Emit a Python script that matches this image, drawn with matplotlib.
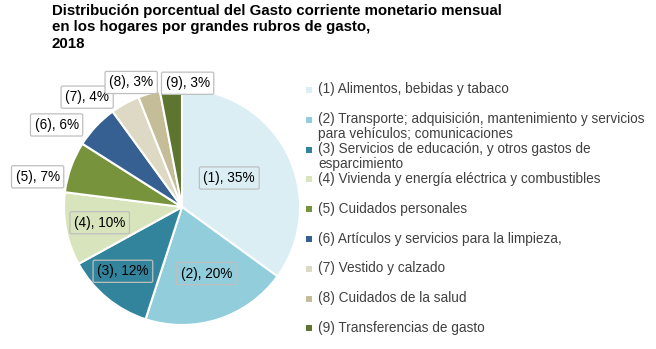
import matplotlib
matplotlib.use("Agg")
import matplotlib.pyplot as plt
import numpy as np
from matplotlib.patches import Rectangle

plt.rcParams['font.family'] = ['Liberation Sans', 'DejaVu Sans']

title = "Distribución porcentual del Gasto corriente monetario mensual\nen los hogares por grandes rubros de gasto,\n2018"
codes = ["(1)", "(2)", "(3)", "(4)", "(5)", "(6)", "(7)", "(8)", "(9)"]
values = [35, 20, 12, 10, 7, 6, 4, 3, 3]
legend_labels = [
    "(1) Alimentos, bebidas y tabaco",
    "(2) Transporte; adquisición, mantenimiento y servicios\npara vehículos; comunicaciones",
    "(3) Servicios de educación, y otros gastos de\nesparcimiento",
    "(4) Vivienda y energía eléctrica y combustibles",
    "(5) Cuidados personales",
    "(6) Artículos y servicios para la limpieza,",
    "(7) Vestido y calzado",
    "(8) Cuidados de la salud",
    "(9) Transferencias de gasto",
]
colors = ["#DAEEF3", "#92CDDC", "#31849B", "#D8E4BC", "#77933C",
          "#366092", "#DDD9C4", "#C4BD97", "#5E7530"]

# label placement styling: radius (in pie radii) and angular tweak (deg)
lab_r = [0.47, 0.60, 0.74, 0.71, 1.25, 1.27, 1.23, 1.14, 1.05]
lab_dang = [4.5, 2, -3, 0, 8, 10, 12, 6, -8]
inside = [True, True, True, True, False, False, False, False, False]

W, H = 656, 349
fig = plt.figure(figsize=(W / 100, H / 100), dpi=100)

cx, cy, R = 182, 142, 118
half = 150
ax = fig.add_axes([(cx - half) / W, (cy - half) / H, 2 * half / W, 2 * half / H])
wedges, _ = ax.pie(values, colors=colors, startangle=90, counterclock=False,
                   radius=1.0, wedgeprops=dict(edgecolor="white", linewidth=1.5))
ax.set_xlim(-half / R, half / R)
ax.set_ylim(-half / R, half / R)
ax.set_aspect("equal")
ax.axis("off")

for i, w in enumerate(wedges):
    mid = np.deg2rad((w.theta1 + w.theta2) / 2 + lab_dang[i])
    x, y = lab_r[i] * np.cos(mid), lab_r[i] * np.sin(mid)
    fc = "none" if inside[i] else "white"
    ax.text(x, y, f"{codes[i]}, {values[i]}%", ha="center", va="center",
            fontsize=9.8, color="black",
            bbox=dict(boxstyle="round,pad=0.3,rounding_size=0.12",
                      fc=fc, ec="#BFBFBF", lw=0.9))

fig.text(52 / W, 1 - 4 / H, title, ha="left", va="top", fontsize=10.8,
         fontweight="bold", color="black", linespacing=1.22)

# legend
x_sq, x_txt = 306, 318
y0, dy = 90, 29.8
for i, lab in enumerate(legend_labels):
    y = y0 + i * dy
    fig.patches.append(Rectangle(((x_sq) / W, 1 - (y + 3) / H), 6 / W, 6 / H,
                                 transform=fig.transFigure, facecolor=colors[i],
                                 edgecolor="none"))
    fig.text(x_txt / W, 1 - (y - 7.5) / H, lab, ha="left", va="top",
             fontsize=9.8, color="#404040", linespacing=1.1)

fig.savefig("out.png", dpi=100)
